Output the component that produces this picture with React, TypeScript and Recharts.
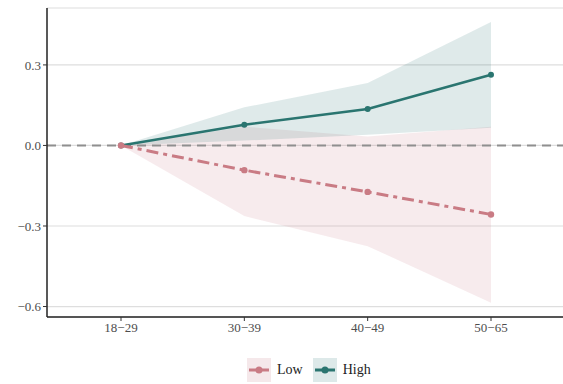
import React from 'react';
import {
  ComposedChart,
  Area,
  Line,
  XAxis,
  YAxis,
  CartesianGrid,
  ReferenceLine,
} from 'recharts';

const ageGroups = ['18\u221229', '30\u221239', '40\u221249', '50\u221265'];

const lowEstimate = [0, -0.092, -0.173, -0.257];
const lowLower = [0, -0.263, -0.375, -0.586];
const lowUpper = [0, 0.07, 0.033, 0.07];

const highEstimate = [0, 0.077, 0.136, 0.263];
const highLower = [0, 0.018, 0.04, 0.066];
const highUpper = [0, 0.142, 0.233, 0.46];

const yTicks = [-0.6, -0.3, 0, 0.3];

const LOW_COLOR = '#c97b84';
const HIGH_COLOR = '#2a7570';
const FONT = '"Liberation Serif", "DejaVu Serif", serif';

const chartData = ageGroups.map((group, i) => ({
  group,
  low: lowEstimate[i],
  lowBand: [lowLower[i], lowUpper[i]],
  high: highEstimate[i],
  highBand: [highLower[i], highUpper[i]],
}));

const formatTick = (v: number) => v.toFixed(1).replace('-', '\u2212');

const LegendKey = ({ color, fill, label }: { color: string; fill: string; label: string }) => (
  <div style={{ display: 'flex', alignItems: 'center', marginRight: 10 }}>
    <svg width={24} height={24}>
      <rect x={0} y={0} width={24} height={24} fill={fill} />
      <line x1={2} y1={12} x2={22} y2={12} stroke={color} strokeWidth={3} />
      <circle cx={12} cy={12} r={3.5} fill={color} />
    </svg>
    <span style={{ marginLeft: 6, fontSize: 14, color: '#222' }}>{label}</span>
  </div>
);

export default function App() {
  return (
    <div style={{ position: 'fixed', top: 0, left: 0, width: 563, height: 384, background: '#fff', fontFamily: FONT }}>
      <ComposedChart
        width={563}
        height={384}
        data={chartData}
        margin={{ top: 8, right: 0, left: 0, bottom: 37 }}
      >
        <CartesianGrid vertical={false} stroke="#dedede" strokeWidth={1.2} />
        <XAxis
          dataKey="group"
          padding={{ left: 74, right: 72 }}
          height={30}
          tick={{ fontSize: 13, fill: '#4d4d4d', fontFamily: FONT }}
          tickLine={{ stroke: '#333' }}
          tickSize={4}
          axisLine={{ stroke: '#222', strokeWidth: 1.5 }}
        />
        <YAxis
          type="number"
          domain={[-0.639, 0.512]}
          ticks={yTicks}
          width={47}
          tickFormatter={formatTick}
          tick={{ fontSize: 13, fill: '#4d4d4d', fontFamily: FONT }}
          tickLine={{ stroke: '#333' }}
          tickSize={4}
          axisLine={{ stroke: '#222', strokeWidth: 1.5 }}
          allowDataOverflow
        />
        <Area
          dataKey="lowBand"
          stroke="none"
          fill={LOW_COLOR}
          fillOpacity={0.15}
          type="linear"
          isAnimationActive={false}
          legendType="none"
        />
        <Area
          dataKey="highBand"
          stroke="none"
          fill={HIGH_COLOR}
          fillOpacity={0.15}
          type="linear"
          isAnimationActive={false}
          legendType="none"
        />
        <ReferenceLine y={0} stroke="#8f8f8f" strokeWidth={2} strokeDasharray="9 6" />
        <Line
          dataKey="high"
          type="linear"
          stroke={HIGH_COLOR}
          strokeWidth={2.6}
          dot={{ r: 3, fill: HIGH_COLOR, stroke: HIGH_COLOR, strokeWidth: 0 }}
          activeDot={false}
          isAnimationActive={false}
        />
        <Line
          dataKey="low"
          type="linear"
          stroke={LOW_COLOR}
          strokeWidth={3}
          strokeDasharray="12 5 4 5"
          dot={{ r: 3.2, fill: LOW_COLOR, stroke: LOW_COLOR, strokeWidth: 0 }}
          activeDot={false}
          isAnimationActive={false}
        />
      </ComposedChart>
      <div
        style={{
          position: 'absolute',
          top: 358,
          left: 247,
          display: 'flex',
          alignItems: 'center',
        }}
      >
        <LegendKey color={LOW_COLOR} fill="#f5e8ea" label="Low" />
        <LegendKey color={HIGH_COLOR} fill="#dde9e9" label="High" />
      </div>
    </div>
  );
}
